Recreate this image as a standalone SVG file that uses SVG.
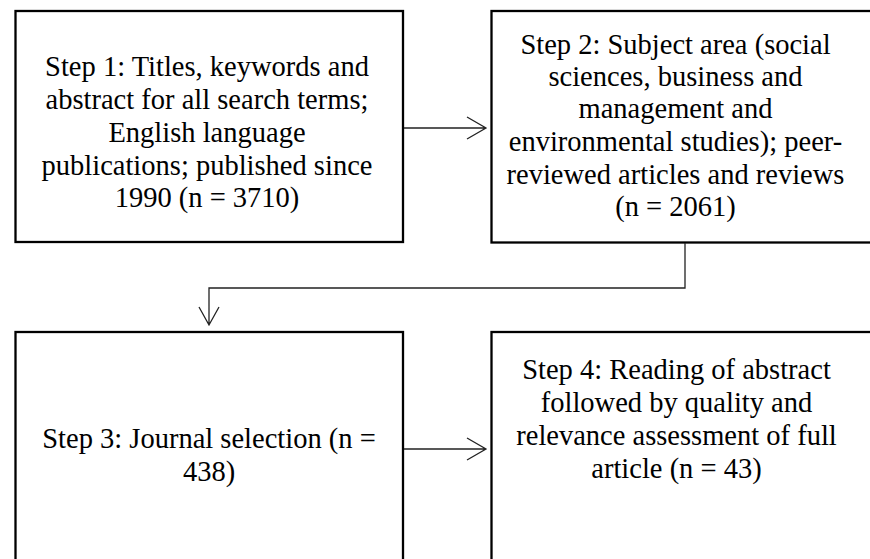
<svg xmlns="http://www.w3.org/2000/svg" width="870" height="559" viewBox="0 0 870 559">
<style>
.box{fill:#fff;stroke:#000;stroke-width:2.3}
.t{font-family:"Liberation Serif","Times New Roman",serif;font-size:28.5px;fill:#000;text-anchor:middle}
.c{fill:none;stroke:#222;stroke-width:1.3}
</style>
<rect width="870" height="559" fill="#fff"/>
<g id="step1">
<rect class="box" x="15.5" y="11" width="387.5" height="231"/>
<text class="t"><tspan x="207" y="76">Step 1: Titles, keywords and</tspan><tspan x="207" y="109">abstract for all search terms;</tspan><tspan x="207" y="142">English language</tspan><tspan x="207" y="175">publications; published since</tspan><tspan x="207" y="207">1990 (n = 3710)</tspan></text>
</g>
<g id="step2">
<rect class="box" x="491.5" y="11" width="390" height="231.5"/>
<text class="t"><tspan x="675.5" y="54">Step 2: Subject area (social</tspan><tspan x="675.5" y="86">sciences, business and</tspan><tspan x="675.5" y="118">management and</tspan><tspan x="675.5" y="151">environmental studies); peer-</tspan><tspan x="675.5" y="184">reviewed articles and reviews</tspan><tspan x="675.5" y="216">(n = 2061)</tspan></text>
</g>
<g id="step3">
<rect class="box" x="15.5" y="332" width="387.5" height="240"/>
<text class="t"><tspan x="209" y="448">Step 3: Journal selection (n =</tspan><tspan x="209" y="481">438)</tspan></text>
</g>
<g id="step4">
<rect class="box" x="491.5" y="332" width="390" height="240"/>
<text class="t"><tspan x="676.5" y="379">Step 4: Reading of abstract</tspan><tspan x="676.5" y="412">followed by quality and</tspan><tspan x="676.5" y="445">relevance assessment of full</tspan><tspan x="676.5" y="478">article (n = 43)</tspan></text>
</g>
<g id="connectors">
<path class="c" d="M404 128H486M467 117L486 128L467 139"/>
<path class="c" d="M404 449H486M467 438L486 449L467 460"/>
<path class="c" d="M685 243V288H209V325M199 307L209 325L219 307"/>
</g>
</svg>
